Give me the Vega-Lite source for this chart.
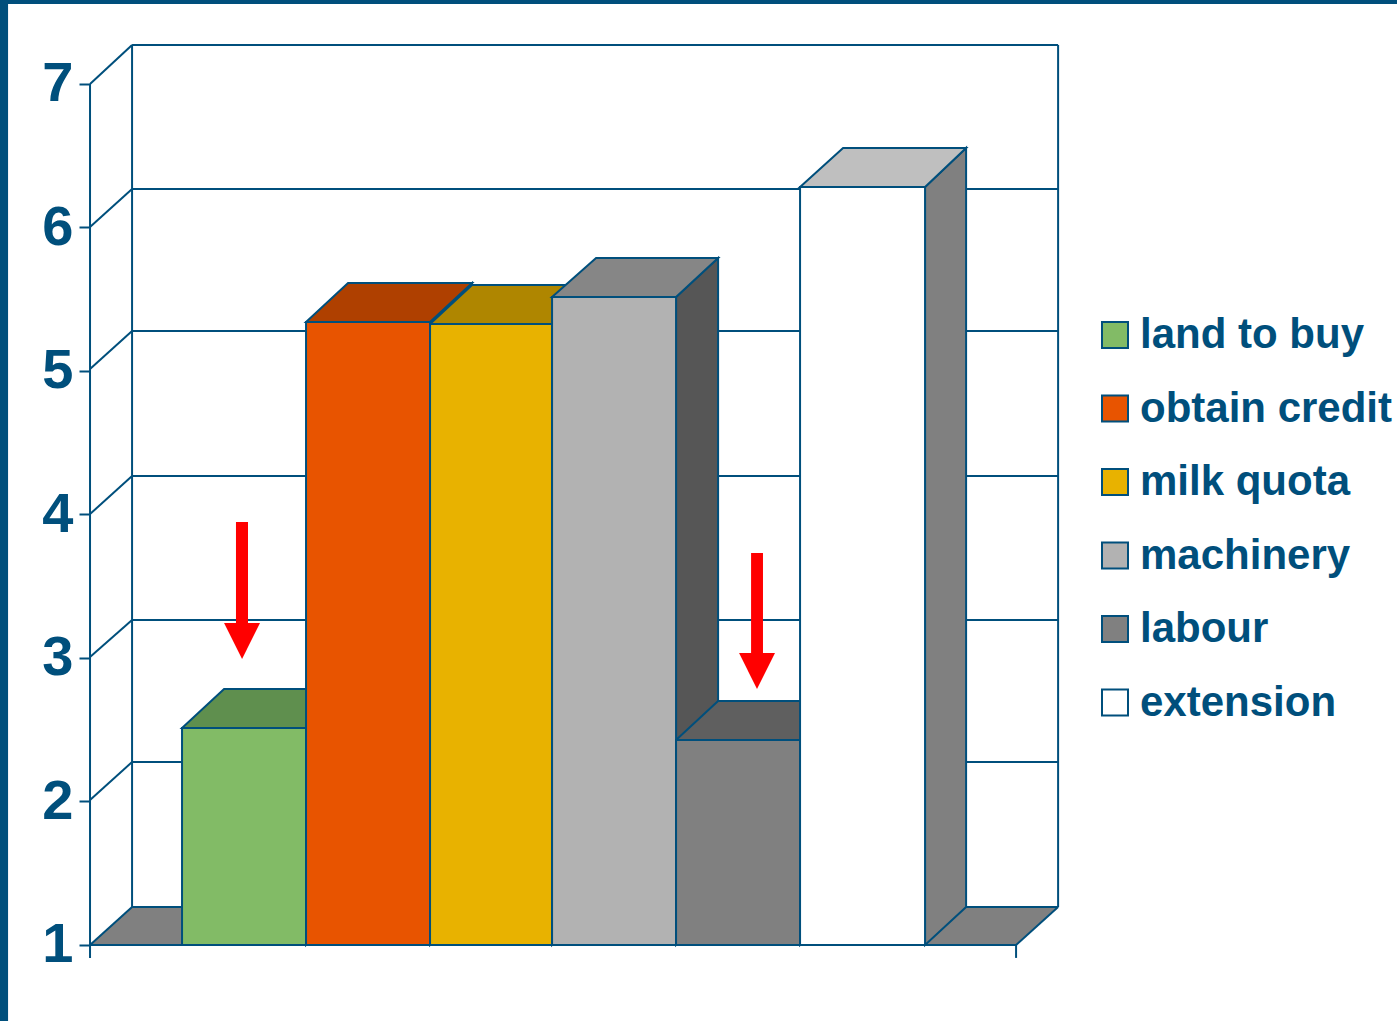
{
"$schema":"https://vega.github.io/schema/vega-lite/v6.json",
"width":1397,"height":1021,"autosize":"none","padding":0,"background":"white",
"config":{"view":{"stroke":null},"axisY":{"title":null,"orient":"left","offset":-90,"format":"d","domain":false,"grid":false,"tickSize":11,"tickWidth":2,"tickColor":"#004F7C","labelPadding":6,"labelFont":"Liberation Sans","labelFontWeight":"bold","labelFontSize":56,"labelColor":"#004F7C"}},
"datasets":{
"frame":[{"a":-1.468,"b":9.798,"lo":7.557,"hi":7.585},{"a":-1.468,"b":-1.403,"lo":0.4704,"hi":7.585}],
"floor":[{"v":1,"a":-0.742,"b":6.726},{"v":1.265,"a":-0.403,"b":7.065}],
"wall":[
{"s":"g7","x":-0.403,"y":7.272},{"s":"g7","x":7.065,"y":7.272},
{"s":"g6","x":-0.403,"y":6.268},{"s":"g6","x":7.065,"y":6.268},
{"s":"g5","x":-0.403,"y":5.279},{"s":"g5","x":7.065,"y":5.279},
{"s":"g4","x":-0.403,"y":4.268},{"s":"g4","x":7.065,"y":4.268},
{"s":"g3","x":-0.403,"y":3.265},{"s":"g3","x":7.065,"y":3.265},
{"s":"g2","x":-0.403,"y":2.275},{"s":"g2","x":7.065,"y":2.275},
{"s":"g1","x":-0.403,"y":1.265},{"s":"g1","x":7.065,"y":1.265},
{"s":"d7","x":-0.742,"y":7.0},{"s":"d7","x":-0.403,"y":7.272},
{"s":"d6","x":-0.742,"y":6.003},{"s":"d6","x":-0.403,"y":6.268},
{"s":"d5","x":-0.742,"y":5.014},{"s":"d5","x":-0.403,"y":5.279},
{"s":"d4","x":-0.742,"y":4.003},{"s":"d4","x":-0.403,"y":4.268},
{"s":"d3","x":-0.742,"y":3.007},{"s":"d3","x":-0.403,"y":3.265},
{"s":"d2","x":-0.742,"y":2.01},{"s":"d2","x":-0.403,"y":2.275},
{"s":"d1","x":-0.742,"y":1},{"s":"d1","x":-0.403,"y":1.265},
{"s":"d0","x":6.726,"y":1},{"s":"d0","x":7.065,"y":1.265},
{"s":"vf","x":-0.742,"y":7.0},{"s":"vf","x":-0.742,"y":0.91},
{"s":"vb","x":-0.403,"y":7.272},{"s":"vb","x":-0.403,"y":1.265},
{"s":"vr","x":7.065,"y":7.272},{"s":"vr","x":7.065,"y":1.265},
{"s":"tr","x":6.726,"y":1},{"s":"tr","x":6.726,"y":0.91},
{"s":"base","x":-0.742,"y":1},{"s":"base","x":6.726,"y":1}
],
"sides":[
{"category":"land to buy","x":1,"top":2.512,"bottom":1},{"category":"land to buy","x":1.339,"top":2.784,"bottom":1.265},
{"category":"obtain credit","x":2,"top":5.341,"bottom":1},{"category":"obtain credit","x":2.339,"top":5.613,"bottom":1.265},
{"category":"milk quota","x":2.984,"top":5.328,"bottom":1},{"category":"milk quota","x":3.323,"top":5.599,"bottom":1.265},
{"category":"machinery","x":3.984,"top":5.516,"bottom":1},{"category":"machinery","x":4.323,"top":5.787,"bottom":1.265},
{"category":"labour","x":4.984,"top":2.429,"bottom":1},{"category":"labour","x":5.323,"top":2.7,"bottom":1.265},
{"category":"extension","x":5.992,"top":6.282,"bottom":1},{"category":"extension","x":6.323,"top":6.554,"bottom":1.265}
],
"tops":[
{"category":"land to buy","v":2.512,"a":0,"b":1},{"category":"land to buy","v":2.784,"a":0.339,"b":1.339},
{"category":"milk quota","v":5.328,"a":2,"b":2.984},{"category":"milk quota","v":5.599,"a":2.339,"b":3.323},
{"category":"obtain credit","v":5.341,"a":1,"b":2},{"category":"obtain credit","v":5.613,"a":1.339,"b":2.339},
{"category":"machinery","v":5.516,"a":2.984,"b":3.984},{"category":"machinery","v":5.787,"a":3.339,"b":4.323},
{"category":"labour","v":2.429,"a":3.984,"b":4.984},{"category":"labour","v":2.7,"a":4.323,"b":5.323},
{"category":"extension","v":6.282,"a":4.984,"b":5.992},{"category":"extension","v":6.554,"a":5.331,"b":6.323}
],
"bars":[
{"category":"land to buy","start":0,"end":1,"value":2.512},
{"category":"obtain credit","start":1,"end":2,"value":5.341},
{"category":"milk quota","start":2,"end":2.984,"value":5.328},
{"category":"machinery","start":2.984,"end":3.984,"value":5.516},
{"category":"labour","start":3.984,"end":4.984,"value":2.429},
{"category":"extension","start":4.984,"end":5.992,"value":6.282}
],
"shafts":[{"a":0.435,"b":0.532,"lo":3.23,"hi":3.948},{"a":4.589,"b":4.685,"lo":3.021,"hi":3.732}],
"heads":[
{"arrow":"A","v":3.244,"a":0.339,"b":0.629},{"arrow":"A","v":2.993,"a":0.484,"b":0.484},
{"arrow":"B","v":3.035,"a":4.492,"b":4.782},{"arrow":"B","v":2.784,"a":4.637,"b":4.637}
]
},
"layer":[
{"data":{"name":"frame"},"mark":{"type":"rect","fill":"#004F7C"},
 "encoding":{"x":{"field":"a","type":"quantitative","axis":null,"scale":{"domain":[-1.468,9.798],"nice":false,"zero":false}},"x2":{"field":"b"},
 "y":{"field":"lo","type":"quantitative","title":null,"axis":{"values":[1,2,3,4,5,6,7]},"scale":{"domain":[0.4704,7.585],"nice":false,"zero":false}},
 "y2":{"field":"hi"}}},
{"data":{"name":"floor"},"mark":{"type":"area","orient":"horizontal","fill":"#808080"},
 "encoding":{"y":{"field":"v","type":"quantitative","title":null,"axis":{"values":[1,2,3,4,5,6,7]}},"x":{"field":"a","type":"quantitative","axis":null},"x2":{"field":"b"}}},
{"data":{"name":"wall"},"mark":{"type":"line","stroke":"#004F7C","strokeWidth":2},
 "encoding":{"x":{"field":"x","type":"quantitative","axis":null},"y":{"field":"y","type":"quantitative","title":null,"axis":{"values":[1,2,3,4,5,6,7]}},"detail":{"field":"s"}}},
{"data":{"name":"sides"},"mark":{"type":"area","orient":"vertical","stroke":"#004F7C","strokeWidth":2},
 "encoding":{"x":{"field":"x","type":"quantitative","axis":null},"y":{"field":"top","type":"quantitative","title":null,"axis":{"values":[1,2,3,4,5,6,7]}},"y2":{"field":"bottom"},
 "fill":{"field":"category","type":"nominal","legend":null,"scale":{"domain":["land to buy","obtain credit","milk quota","machinery","labour","extension"],"range":["#4F7040","#8F3400","#8F6C00","#565656","#4D4D4D","#808080"]}}}},
{"data":{"name":"tops"},"mark":{"type":"area","orient":"horizontal","stroke":"#004F7C","strokeWidth":2},
 "encoding":{"y":{"field":"v","type":"quantitative","title":null,"axis":{"values":[1,2,3,4,5,6,7]}},"x":{"field":"a","type":"quantitative","axis":null},"x2":{"field":"b"},
 "fill":{"field":"category","type":"nominal","legend":null,"scale":{"domain":["land to buy","obtain credit","milk quota","machinery","labour","extension"],"range":["#5F8F4E","#AF4000","#AF8600","#868686","#5F5F5F","#BFBFBF"]}}}},
{"data":{"name":"bars"},"mark":{"type":"rect","stroke":"#004F7C","strokeWidth":2},
 "encoding":{"x":{"field":"start","type":"quantitative","axis":null},"x2":{"field":"end"},"y":{"field":"value","type":"quantitative","title":null,"axis":{"values":[1,2,3,4,5,6,7]}},"y2":{"datum":1},
 "fill":{"field":"category","type":"nominal","scale":{"domain":["land to buy","obtain credit","milk quota","machinery","labour","extension"],"range":["#82BB66","#E85400","#E8B200","#B2B2B2","#808080","#FFFFFF"]},
  "legend":{"orient":"none","legendX":1094,"legendY":314,"title":null,"symbolType":"square","symbolSize":676,"symbolStrokeColor":"#004F7C","symbolStrokeWidth":2,"labelFont":"Liberation Sans","labelFontWeight":"bold","labelFontSize":42,"labelColor":"#004F7C","labelOffset":4,"rowPadding":31.5,"labelLimit":400}}}},
{"data":{"name":"shafts"},"mark":{"type":"rect","fill":"#FF0000"},
 "encoding":{"x":{"field":"a","type":"quantitative","axis":null},"x2":{"field":"b"},"y":{"field":"lo","type":"quantitative","title":null,"axis":{"values":[1,2,3,4,5,6,7]}},"y2":{"field":"hi"}}},
{"data":{"name":"heads"},"mark":{"type":"area","orient":"horizontal","fill":"#FF0000"},
 "encoding":{"y":{"field":"v","type":"quantitative","title":null,"axis":{"values":[1,2,3,4,5,6,7]}},"x":{"field":"a","type":"quantitative","axis":null},"x2":{"field":"b"},"detail":{"field":"arrow"}}}
],
"resolve":{"scale":{"fill":"independent"}}
}
